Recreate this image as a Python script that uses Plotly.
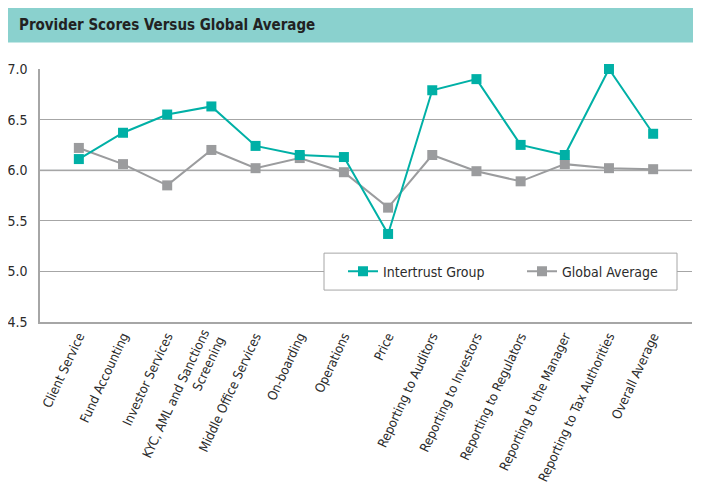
"""
Provider scores vs global average - Plotly line chart.
"""

import plotly.graph_objects as go

CATEGORIAS = [
    "Client Service",
    "Fund Accounting",
    "Investor Services",
    "KYC, AML and Sanctions<br>Screening",
    "Middle Office Services",
    "On-boarding",
    "Operations",
    "Price",
    "Reporting to Auditors",
    "Reporting to Investors",
    "Reporting to Regulators",
    "Reporting to the Manager",
    "Reporting to Tax Authorities",
    "Overall Average",
]

INTERTRUST = [6.11, 6.37, 6.55, 6.63, 6.24, 6.15, 6.13, 5.37, 6.79, 6.90, 6.25, 6.15, 7.00, 6.36]
GLOBAL_AVG = [6.22, 6.06, 5.85, 6.20, 6.02, 6.12, 5.98, 5.63, 6.15, 5.99, 5.89, 6.06, 6.02, 6.01]

Y_TICKS = [4.5, 5.0, 5.5, 6.0, 6.5, 7.0]

TEAL = "#00B0A6"
GRIS = "#9B9C9E"
BANNER = "#8AD1CE"
TEXTO = "#2B2B2B"
FUENTE = "Liberation Sans Narrow, DejaVu Sans Condensed, Arial Narrow, sans-serif"

# area de trazado en pixeles de pantalla (la pagina tiene 8px de margen en body)
X_IZQ, X_DER = 40, 692
Y_SUP, Y_INF = 68.5, 322
ANCHO = X_DER - X_IZQ
ALTO = Y_INF - Y_SUP


def px_x(v):
    return (v - X_IZQ) / ANCHO


def px_y(v):
    return (Y_INF - v) / ALTO


fig = go.Figure()

# gris primero para que el teal quede encima
for nombre, valores, color in [
    ("Global Average", GLOBAL_AVG, GRIS),
    ("Intertrust Group", INTERTRUST, TEAL),
]:
    fig.add_trace(
        go.Scatter(
            x=CATEGORIAS,
            y=valores,
            name=nombre,
            mode="lines+markers",
            line=dict(color=color, width=2),
            marker=dict(symbol="square", size=10, color=color),
            cliponaxis=False,
        )
    )

fig.update_layout(
    width=701,
    height=492,
    paper_bgcolor="white",
    plot_bgcolor="white",
    margin=dict(l=X_IZQ - 8, r=701 + 8 - X_DER, t=Y_SUP - 8, b=492 + 8 - Y_INF, autoexpand=False),
    font=dict(family=FUENTE, color=TEXTO, size=13),
    showlegend=True,
    legend=dict(
        orientation="h",
        x=px_x(343),
        xanchor="left",
        y=px_y(271.5),
        yanchor="middle",
        bgcolor="rgba(0,0,0,0)",
        font=dict(size=14, color=TEXTO),
        entrywidth=134,
        entrywidthmode="pixels",
        traceorder="reversed",
    ),
    xaxis=dict(
        type="category",
        automargin=False,
        showgrid=False,
        showline=True,
        linecolor="#A6A6A6",
        linewidth=1.5,
        tickangle=-65,
        tickfont=dict(size=13, color=TEXTO),
        ticks="",
    ),
    yaxis=dict(
        range=[4.5, 7.0],
        automargin=False,
        tickvals=Y_TICKS,
        ticktext=[f"{v:.1f}" for v in Y_TICKS],
        showgrid=True,
        gridcolor="#A6A6A6",
        gridwidth=1,
        showline=True,
        linecolor="#A6A6A6",
        linewidth=1.5,
        zeroline=False,
        ticks="",
        ticklabelstandoff=8,
        tickfont=dict(size=14, color=TEXTO),
    ),
    shapes=[
        # banda del titulo
        dict(
            type="rect", xref="paper", yref="paper",
            x0=px_x(6), x1=px_x(700), y0=px_y(42), y1=px_y(5),
            fillcolor=BANNER, line=dict(width=0), layer="above",
        ),
        # linea de 6.0 mas clara
        dict(
            type="line", xref="paper", yref="y",
            x0=0, x1=1, y0=6.0, y1=6.0,
            line=dict(color="#C6C8CA", width=2), layer="between",
        ),
        # caja de la leyenda
        dict(
            type="rect", xref="paper", yref="paper",
            x0=px_x(324), x1=px_x(677), y0=px_y(290), y1=px_y(253),
            fillcolor="white", line=dict(color="#A6A6A6", width=1), layer="above",
        ),
    ],
    annotations=[
        dict(
            text="<b>Provider Scores Versus Global Average</b>",
            xref="paper", yref="paper",
            x=px_x(17), y=px_y(24),
            xanchor="left", yanchor="middle",
            showarrow=False,
            font=dict(size=15, color="#222222", family=FUENTE),
        )
    ],
)

fig.write_html("out.html")
